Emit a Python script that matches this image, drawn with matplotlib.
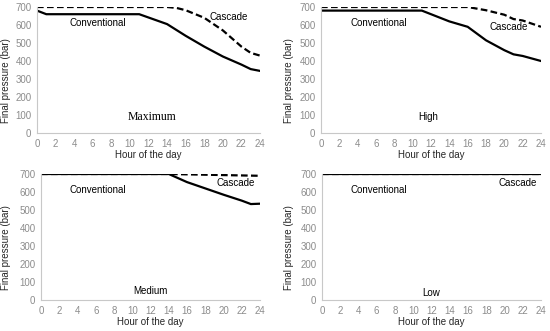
import numpy as np
import matplotlib.pyplot as plt

plt.rcParams['font.family'] = ['Liberation Sans', 'DejaVu Sans']

# hours and pressures
max_conv_h = [0, 1, 11, 14, 16, 18, 20, 22, 23, 24]
max_conv_p = [680, 660, 660, 605, 540, 480, 425, 380, 355, 345]
max_casc_h = [0, 14, 15, 16, 18, 20, 22, 23, 24]
max_casc_p = [700, 700, 695, 682, 640, 570, 480, 445, 430]

high_conv_h = [0, 11, 14, 16, 18, 20, 21, 22, 24]
high_conv_p = [680, 680, 620, 590, 515, 460, 437, 428, 400]
high_casc_h = [0, 16, 18, 20, 21, 22, 24]
high_casc_p = [700, 700, 682, 657, 633, 625, 590]

med_conv_h = [0, 14, 16, 18, 20, 22, 23, 24]
med_conv_p = [700, 700, 655, 620, 585, 552, 533, 535]
med_casc_h = [0, 14, 24]
med_casc_p = [700, 700, 690]

low_conv_h = [0, 24]
low_conv_p = [700, 700]
low_casc_h = [0, 24]
low_casc_p = [700, 700]

xticks = list(range(0, 25, 2))
yticks = list(range(0, 701, 100))

fig = plt.figure(figsize=(5.5, 3.31), dpi=100)
W, H = 550, 331

# axes boxes in pixels: left, right, top(700), bottom(0), ylabel anchor x
boxes = [(37, 260, 7, 133, 11), (321, 541, 7, 133, 294),
         (41, 260, 174, 300, 11.5), (322, 541, 174, 300, 294)]
panels = [
    (max_conv_h, max_conv_p, max_casc_h, max_casc_p, 'Maximum', (12.4, 89), (6.5, 611), (20.6, 644)),
    (high_conv_h, high_conv_p, high_casc_h, high_casc_p, 'High', (11.7, 89), (6.3, 611), (20.5, 589)),
    (med_conv_h, med_conv_p, med_casc_h, med_casc_p, 'Medium', (12.0, 50), (6.2, 611), (21.3, 650)),
    (low_conv_h, low_conv_p, low_casc_h, low_casc_p, 'Low', (12.0, 39), (6.2, 611), (21.4, 650)),
]

grey = '#8c8c8c'
for (l, r, t, b, yl), (ch, cp, sh, sp, name, npos, cpos, spos) in zip(boxes, panels):
    ax = fig.add_axes([l / W, 1 - b / H, (r - l) / W, (b - t) / H])
    ax.plot(sh, sp, color='black', lw=1.6, ls=(0, (3, 1.5)))
    ax.plot(ch, cp, color='black', lw=1.6)
    ax.set_xlim(0, 24)
    ax.set_ylim(0, 700)
    ax.set_xticks(xticks)
    ax.set_yticks(yticks)
    for s in ['top', 'right']:
        ax.spines[s].set_visible(False)
    ax.spines['bottom'].set_color('#c8c8c8')
    ax.spines['left'].set_color('#c8c8c8')
    ax.tick_params(length=0, labelsize=7, colors=grey, pad=4)
    ax.set_xlabel('Hour of the day', fontsize=7, color='#262626', labelpad=1)
    ax.set_ylabel('Final pressure (bar)', fontsize=7, color='#262626')
    ax.yaxis.set_label_coords((yl - l) / (r - l), 0.42)
    ax.patch.set_alpha(0)
    ax.text(cpos[0], cpos[1], 'Conventional', fontsize=7, ha='center', va='center')
    ax.text(spos[0], spos[1], 'Cascade', fontsize=7, ha='center', va='center')
    if name == 'Maximum':
        ax.text(npos[0], npos[1], name, fontsize=8.5, ha='center', va='center', family='Liberation Serif')
    else:
        ax.text(npos[0], npos[1], name, fontsize=7, ha='center', va='center')

fig.savefig('out.png', dpi=100)
